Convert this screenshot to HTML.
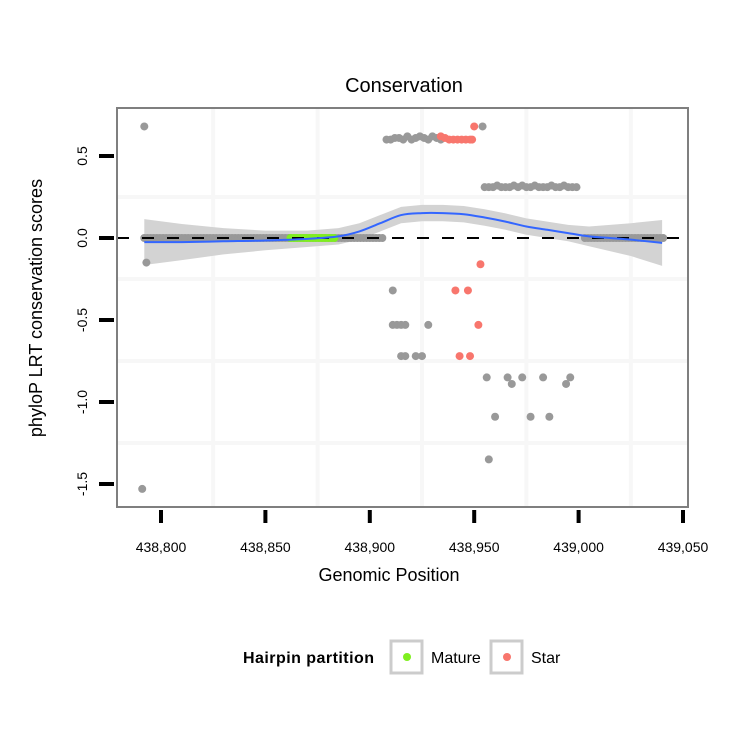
<!DOCTYPE html>
<html><head><meta charset="utf-8"><style>
html,body{margin:0;padding:0;background:#fff;}
svg{display:block;font-family:"Liberation Sans",sans-serif;}
</style></head><body>
<svg id="chart" width="750" height="750"></svg>
<script>
const xTicks=[438800,438850,438900,438950,439000,439050];
const xTickLabels=["438,800","438,850","438,900","438,950","439,000","439,050"];
const yTicks=[0.5,0.0,-0.5,-1.0,-1.5];
const yTickLabels=["0.5","0.0","-0.5","-1.0","-1.5"];
const xGrid=[438825,438875,438925,438975,439025];
const yGrid=[0.25,-0.25,-0.75,-1.25];
const grayPos=[438792,438793,438791,438908,438910,438912,438914,438916,438918,438920,438922,438924,438926,438928,438930,438932,438934,438954,438955,438957,438959,438961,438963,438965,438967,438969,438971,438973,438975,438977,438979,438981,438983,438985,438987,438989,438991,438993,438995,438997,438999,438911,438911,438913,438915,438917,438928,438915,438917,438922,438925,438956,438966,438973,438983,438996,438968,438994,438960,438977,438986,438957];
const grayVal=[0.68,-0.15,-1.53,0.6,0.6,0.61,0.61,0.6,0.62,0.6,0.61,0.62,0.61,0.6,0.62,0.61,0.6,0.68,0.31,0.31,0.31,0.32,0.31,0.31,0.31,0.32,0.31,0.32,0.31,0.31,0.32,0.31,0.31,0.31,0.32,0.31,0.31,0.32,0.31,0.31,0.31,-0.32,-0.53,-0.53,-0.53,-0.53,-0.53,-0.72,-0.72,-0.72,-0.72,-0.85,-0.85,-0.85,-0.85,-0.85,-0.89,-0.89,-1.09,-1.09,-1.09,-1.35];
const basePos=[];for(let p=438792;p<=438907;p+=1.5)basePos.push(p);for(let p=439003;p<=439041;p+=1.5)basePos.push(p);
const matPos=[];for(let p=438862;p<=438883;p+=1.5)matPos.push(p);
const starPos=[438934,438936,438938,438940,438942,438944,438946,438948,438949,438950,438953,438941,438947,438952,438943,438948];
const starVal=[0.62,0.61,0.6,0.6,0.6,0.6,0.6,0.6,0.6,0.68,-0.16,-0.32,-0.32,-0.53,-0.72,-0.72];
const fitPos=[438792,438810,438830,438850,438870,438885,438895,438905,438915,438925,438935,438945,438955,438965,438975,438985,438995,439005,439015,439025,439040];
const fitVal=[-0.025,-0.025,-0.02,-0.015,-0.005,0.01,0.04,0.09,0.14,0.152,0.152,0.145,0.125,0.1,0.07,0.05,0.03,0.01,0.0,-0.01,-0.03];
const fitSe=[0.14,0.11,0.08,0.06,0.05,0.05,0.05,0.05,0.05,0.05,0.05,0.05,0.05,0.05,0.05,0.05,0.05,0.06,0.08,0.1,0.14];

const NS="http://www.w3.org/2000/svg";const svg=document.getElementById('chart');
const X=v=>161+(v-438800)*2.088; const Y=v=>238-v*164;
function mk(t,a,p){const e=document.createElementNS(NS,t);for(const k in a)e.setAttribute(k,a[k]);(p||svg).appendChild(e);return e;}
const L=117,R=688,T=108,B=507;
const bg=mk('rect',{x:L,y:T,width:R-L,height:B-T,fill:'#fff'});


xGrid.forEach(g=>{const l=mk('line',{x1:X(g),x2:X(g),y1:T,y2:B,stroke:'#f7f7f7','stroke-width':4});

});
yGrid.forEach(g=>{const l=mk('line',{x1:L,x2:R,y1:Y(g),y2:Y(g),stroke:'#f7f7f7','stroke-width':4});

});
let d='';fitPos.forEach((p,i)=>d+=(i?'L':'M')+X(p)+','+Y(fitVal[i]+fitSe[i]));
for(let i=fitPos.length-1;i>=0;i--)d+='L'+X(fitPos[i])+','+Y(fitVal[i]-fitSe[i]);
const band=mk('path',{d:d+'Z',fill:'#d3d3d3'});


function dot(p,v,c,name){const e=mk('circle',{cx:X(p),cy:Y(v),r:4,fill:c});

}
basePos.forEach(p=>dot(p,0,'#999999','baseline-point'));
matPos.forEach(p=>dot(p,0,'#7fef1f','mature-point'));
grayPos.forEach((p,i)=>dot(p,grayVal[i],'#999999','gray-point'));
starPos.forEach((p,i)=>dot(p,starVal[i],'#f8766d','star-point'));
const zl=mk('line',{x1:L,x2:R,y1:Y(0),y2:Y(0),stroke:'#000','stroke-width':2,'stroke-dasharray':'12,13'});


let pts=fitPos.map((p,i)=>[X(p),Y(fitVal[i])]);let ld='M'+pts[0];
for(let i=0;i<pts.length-1;i++){const p0=pts[Math.max(0,i-1)],p1=pts[i],p2=pts[i+1],p3=pts[Math.min(pts.length-1,i+2)];
ld+=`C${p1[0]+(p2[0]-p0[0])/6},${p1[1]+(p2[1]-p0[1])/6} ${p2[0]-(p3[0]-p1[0])/6},${p2[1]-(p3[1]-p1[1])/6} ${p2[0]},${p2[1]}`;}
const fl=mk('path',{d:ld,fill:'none',stroke:'#3366ff','stroke-width':2});


const fr=mk('rect',{x:L,y:T,width:R-L,height:B-T,fill:'none',stroke:'#7f7f7f','stroke-width':2});


xTicks.forEach((t,i)=>{const l=mk('line',{x1:X(t),x2:X(t),y1:510,y2:523,stroke:'#000','stroke-width':4});


const tx=mk('text',{x:X(t),y:552,'text-anchor':'middle','font-size':14});tx.textContent=xTickLabels[i];

});
yTicks.forEach((t,i)=>{const l=mk('line',{x1:99,x2:114,y1:Y(t),y2:Y(t),stroke:'#000','stroke-width':4});


const tx=mk('text',{x:0,y:0,'text-anchor':'middle','font-size':14,transform:`translate(87,${Y(t)}) rotate(-90)`});tx.textContent=yTickLabels[i];

});
</script>
<svg width="750" height="750" style="position:absolute;left:0;top:0">
<text x="404" y="92" text-anchor="middle" font-size="20" font-family="Liberation Sans">Conservation</text>
<text x="389" y="581" text-anchor="middle" font-size="18" font-family="Liberation Sans">Genomic Position</text>
<text transform="translate(42,308) rotate(-90)" text-anchor="middle" font-size="18" font-family="Liberation Sans">phyloP LRT conservation scores</text>
<text x="243" y="663" font-size="16" font-weight="bold" font-family="Liberation Sans" textLength="131">Hairpin partition</text>
<rect x="391" y="641" width="31" height="32" fill="#fff" stroke="#cccccc" stroke-width="3"/>
<circle cx="407" cy="657" r="4" fill="#7fef1f"/>
<text x="431" y="663" font-size="16" font-family="Liberation Sans">Mature</text>
<rect x="491" y="641" width="31" height="32" fill="#fff" stroke="#cccccc" stroke-width="3"/>
<circle cx="507" cy="657" r="4" fill="#f8766d"/>
<text x="531" y="663" font-size="16" font-family="Liberation Sans">Star</text>
</svg>
</body></html>
